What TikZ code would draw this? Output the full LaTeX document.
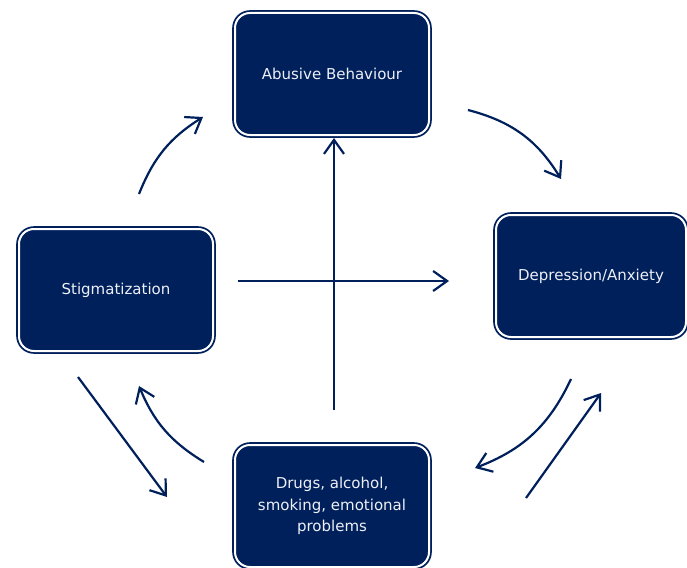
\documentclass[tikz,border=0pt]{standalone}
\usepackage{fontspec}
\setmainfont{DejaVu Sans}
\usetikzlibrary{arrows.meta}
\definecolor{navy}{RGB}{0,32,91}
\definecolor{boxtext}{RGB}{238,240,246}
\begin{document}
\begin{tikzpicture}[x=1pt,y=-1pt,
  box/.style={rectangle, rounded corners=15pt, fill=navy, draw=navy,
    double=white, double distance=2pt, line width=1.8pt,
    minimum width=194pt, minimum height=122pt, align=center,
    text=boxtext, font=\fontsize{15}{21.5}\selectfont, inner sep=0pt},
  arr/.style={draw=navy, line width=2.2pt, -{Straight Barb[length=14pt,width=20pt,line width=2.2pt]}}
]
\useasboundingbox (0,0) rectangle (687,567);
\node[box] (ab) at (332,74) {Abusive Behaviour};
\node[box, minimum width=190pt] (dep) at (591,276) {Depression/Anxiety};
\node[box] (stig) at (116,290) {Stigmatization};
\node[box] (drug) at (332,506) {Drugs, alcohol,\\smoking, emotional\\problems};

\coordinate (a1s) at (139,194); \coordinate (a1e) at (203,117);
\coordinate (a2s) at (468,110); \coordinate (a2e) at (561,179);
\coordinate (a3s) at (238,281); \coordinate (a3e) at (449,281);
\coordinate (a4s) at (334,410); \coordinate (a4e) at (334,138);
\coordinate (a5s) at (571,379); \coordinate (a5e) at (475,468);
\coordinate (a6s) at (526,498); \coordinate (a6e) at (601,393);
\coordinate (a7s) at (78,377);  \coordinate (a7e) at (167,497);
\coordinate (a8s) at (204,462); \coordinate (a8e) at (139,386);

\draw[arr] (a1s) to[bend left=18] (a1e);
\draw[arr] (a2s) to[bend left=22] (a2e);
\draw[arr] (a3s) -- (a3e);
\draw[arr] (a4s) -- (a4e);
\draw[arr] (a5s) to[bend left=22] (a5e);
\draw[arr] (a6s) -- (a6e);
\draw[arr] (a7s) -- (a7e);
\draw[arr] (a8s) to[bend left=18] (a8e);
\end{tikzpicture}
\end{document}
